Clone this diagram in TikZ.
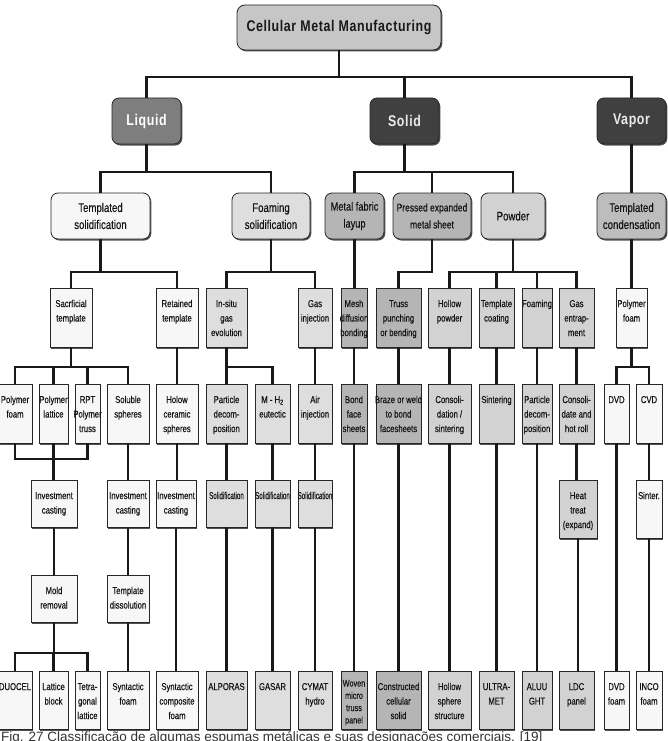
\documentclass[tikz,border=0pt]{standalone}
\usepackage{fontspec}
\setmainfont{Liberation Sans}
\newfontfamily\nf[FakeStretch=0.77,FakeBold=0.35]{Liberation Sans}
\newfontfamily\tf[FakeStretch=0.8,LetterSpace=4]{Liberation Sans}
\usetikzlibrary{shadows}
\definecolor{cW}{HTML}{F7F7F7}
\definecolor{cF}{HTML}{DEDEDE}
\definecolor{cM}{HTML}{B5B5B5}
\definecolor{cP}{HTML}{D2D2D2}
\definecolor{cT}{HTML}{BDBDBD}
\definecolor{cTitle}{HTML}{C6C6C6}
\definecolor{cLiq}{HTML}{7E7E7E}
\definecolor{cDark}{HTML}{404040}
\definecolor{cTxt}{HTML}{141414}
\tikzset{
  shd/.style={drop shadow={shadow xshift=1.3pt,shadow yshift=-1.5pt,fill=black!80,opacity=0.85}},
  sqbox/.style={draw=black!85,line width=0.8pt,inner sep=0pt,shd,text=cTxt},
  rbox/.style={draw=black!85,line width=0.8pt,inner sep=0pt,rounded corners=7pt,shd,align=center,text=cTxt},
  conn/.style={line width=2.2pt,black!90},
}
\newcommand\fA{\fontsize{10}{14.5}\selectfont\def\bxgap{8.9pt}}
\newcommand\fW{\fontsize{9.5}{12.3}\selectfont\def\bxgap{6.9pt}}
\newcommand\sqz[1]{\makebox[\linewidth]{\scalebox{0.8}[1]{#1}}}
\newcommand\mybox[8]{\node[sqbox,fill=#6,minimum width={(#4-#2)*1pt},minimum height={(#5-#3)*1pt}] (#1) at ({(#2+#4)/2},{(#3+#5)/2}) {\parbox[t][\dimexpr#5pt-#3pt\relax][t]{\dimexpr#4pt-#2pt\relax}{\nf#7\centering\vspace*{\bxgap}\strut#8\par}};}
\newcommand\myrbox[7]{\node[rbox,#6,minimum width={(#4-#2)*1pt},minimum height={(#5-#3)*1pt}] (#1) at ({(#2+#4)/2},{(#3+#5)/2}) {#7};}
\begin{document}
\begin{tikzpicture}[x=1pt,y=-1pt]
\fill[white] (0,0) rectangle (668,741);
\useasboundingbox (0,0) rectangle (668,741);
% level 0 and 1
\myrbox{title}{237}{5}{441}{50}{fill=cTitle,rounded corners=8pt,font=\tf\bfseries\fontsize{15.5}{18}\selectfont,text=black!90}{Cellular Metal Manufacturing}
\myrbox{liquid}{112}{98}{181}{144}{fill=cLiq,font=\tf\bfseries\fontsize{15.5}{18}\selectfont,text=white}{Liquid}
\myrbox{solid}{370}{98}{439}{144}{fill=cDark,font=\tf\bfseries\fontsize{15.5}{18}\selectfont,text=white!92!black}{Solid}
\myrbox{vapor}{597}{98}{666}{144}{fill=cDark,font=\tf\bfseries\fontsize{15.5}{18}\selectfont,text=white!92!black}{Vapor}
% level 2
\myrbox{tsol}{51}{193}{150}{239}{fill=cW,font=\nf\fontsize{12.5}{17}\selectfont}{Templated\\solidification}
\myrbox{fsol}{232}{193}{310}{239}{fill=cF,font=\nf\fontsize{12.5}{17}\selectfont}{Foaming\\solidification}
\myrbox{mfab}{325}{193}{384}{239}{fill=cM,font=\nf\fontsize{12}{17}\selectfont}{Metal fabric\\layup}
\myrbox{pexp}{393}{193}{471}{239}{fill=cM,font=\nf\fontsize{11}{17}\selectfont}{Pressed expanded\\metal sheet}
\myrbox{powder}{481}{193}{545}{239}{fill=cP,font=\nf\fontsize{12.5}{17}\selectfont}{Powder}
\myrbox{tcond}{597}{193}{666}{239}{fill=cT,font=\nf\fontsize{12.5}{17}\selectfont}{Templated\\condensation}
% level 3
\mybox{sac}{50}{288}{92}{347}{cW}{\fA}{Sacrficial\\template}
\mybox{ret}{156}{288}{198}{347}{cW}{\fA}{Retained\\template}
\mybox{insitu}{206}{288}{247}{347}{cF}{\fA}{In-situ\\gas\\evolution}
\mybox{gasinj}{298}{288}{332}{347}{cF}{\fA}{Gas\\injection}
\mybox{mesh}{341}{288}{367}{347}{cM}{\fA}{Mesh\\\makebox[\linewidth]{diffusion}\\\makebox[\linewidth]{bonding}}
\mybox{truss}{376}{288}{421}{347}{cM}{\fA}{Truss\\punching\\or bending}
\mybox{hpow}{428}{288}{471}{347}{cP}{\fA}{Hollow\\powder}
\mybox{tcoat}{479}{288}{514}{347}{cP}{\fA}{\makebox[\linewidth]{Template}\\coating}
\mybox{foam}{522}{288}{552}{347}{cP}{\fA}{\makebox[\linewidth]{Foaming}}
\mybox{gasent}{559}{288}{594}{347}{cP}{\fA}{Gas\\entrap-\\ment}
\mybox{pfoamv}{616}{288}{647}{347}{cW}{\fA}{Polymer\\foam}
% level 4
\mybox{pfoam}{-2}{384}{32}{443}{cW}{\fA}{Polymer\\foam}
\mybox{plat}{39}{384}{68}{443}{cW}{\fA}{\makebox[\linewidth]{Polymer}\\lattice}
\mybox{rpt}{75}{384}{100}{443}{cW}{\fA}{RPT\\\makebox[\linewidth]{Polymer}\\truss}
\mybox{sol}{107}{384}{149}{443}{cW}{\fA}{Soluble\\spheres}
\mybox{hcs}{156}{384}{198}{443}{cW}{\fA}{Holow\\ceramic\\spheres}
\mybox{pdec1}{206}{384}{247}{443}{cF}{\fA}{Particle\\decom-\\position}
\mybox{mh2}{255}{384}{290}{443}{cF}{\fA}{M - H\textsubscript{2}\\eutectic}
\mybox{air}{298}{384}{332}{443}{cF}{\fA}{Air\\injection}
\mybox{bond}{341}{384}{367}{443}{cM}{\fA}{Bond\\face\\sheets}
\mybox{braze}{376}{384}{421}{443}{cM}{\fA}{\makebox[\linewidth]{Braze or weld}\\to bond\\facesheets}
\mybox{consol}{428}{384}{471}{443}{cP}{\fA}{Consoli-\\dation /\\sintering}
\mybox{sint}{479}{384}{514}{443}{cP}{\fA}{\makebox[\linewidth]{Sintering}}
\mybox{pdec2}{522}{384}{552}{443}{cP}{\fA}{Particle\\decom-\\position}
\mybox{conshr}{559}{384}{594}{443}{cP}{\fA}{Consoli-\\date and\\hot roll}
\mybox{dvd}{604}{384}{629}{443}{cW}{\fA}{DVD}
\mybox{cvd}{636}{384}{662}{443}{cW}{\fA}{CVD}
% level 5
\mybox{inv1}{31}{480}{77}{527}{cW}{\fA}{Investment\\casting}
\mybox{inv2}{107}{480}{149}{527}{cW}{\fA}{Investment\\casting}
\mybox{inv3}{156}{480}{196}{527}{cW}{\fA}{Investment\\casting}
\mybox{s1}{206}{480}{247}{527}{cF}{\fA}{\sqz{Solidification}}
\mybox{s2}{255}{480}{290}{527}{cF}{\fA}{\sqz{Solidification}}
\mybox{s3}{298}{480}{332}{527}{cF}{\fA}{\sqz{Solidification}}
\mybox{heat}{559}{480}{597}{538}{cP}{\fA}{Heat\\treat\\(expand)}
\mybox{sinter}{636}{480}{662}{538}{cW}{\fA}{Sinter.}
% level 6
\mybox{mold}{31}{575}{77}{622}{cW}{\fA}{Mold\\removal}
\mybox{tdis}{107}{575}{149}{622}{cW}{\fA}{Template\\dissolution}
% level 7
\mybox{duocel}{-2}{671}{32}{729}{cW}{\fA}{DUOCEL}
\mybox{lblock}{39}{671}{68}{729}{cW}{\fA}{Lattice\\block}
\mybox{tetra}{75}{671}{100}{729}{cW}{\fA}{Tetra-\\gonal\\lattice}
\mybox{synf}{107}{671}{149}{729}{cW}{\fA}{Syntactic\\foam}
\mybox{syncomp}{156}{671}{198}{729}{cW}{\fA}{Syntactic\\composite\\foam}
\mybox{alporas}{206}{671}{247}{729}{cF}{\fA}{ALPORAS}
\mybox{gasar}{255}{671}{290}{729}{cF}{\fA}{GASAR}
\mybox{cymat}{298}{671}{332}{729}{cF}{\fA}{CYMAT\\hydro}
\mybox{woven}{341}{671}{367}{729}{cM}{\fW}{Woven\\micro\\truss\\panel}
\mybox{ccs}{376}{671}{421}{729}{cM}{\fA}{\makebox[\linewidth]{Constructed}\\cellular\\solid}
\mybox{hss}{428}{671}{471}{729}{cP}{\fA}{Hollow\\sphere\\structure}
\mybox{ultra}{479}{671}{514}{729}{cP}{\fA}{ULTRA-\\MET}
\mybox{aluu}{522}{671}{552}{729}{cP}{\fA}{ALUU\\GHT}
\mybox{ldc}{559}{671}{594}{729}{cP}{\fA}{LDC\\panel}
\mybox{dvdf}{604}{671}{629}{729}{cW}{\fA}{DVD\\foam}
\mybox{inco}{636}{671}{662}{729}{cW}{\fA}{INCO\\foam}
% bar levels
\coordinate (b0) at (0,77);
\coordinate (b1) at (0,172);
\coordinate (b2) at (0,272);
\coordinate (b3) at (0,367);
\coordinate (bm) at (0,459);
\coordinate (b4) at (0,653);
% connectors
\draw[conn] (title.south) -- (title.south |- b0) -| (liquid.north);
\draw[conn] (title.south |- b0) -| (solid.north);
\draw[conn] (title.south |- b0) -| (vapor.north);
\draw[conn] (liquid.south) -- (liquid.south |- b1) -| (tsol.north);
\draw[conn] (liquid.south |- b1) -| (fsol.north);
\draw[conn] (solid.south) -- (solid.south |- b1) -| (mfab.north);
\draw[conn] (solid.south |- b1) -| (pexp.north);
\draw[conn] (solid.south |- b1) -| (powder.north);
\draw[conn] (vapor.south) -- (vapor.south |- tcond.north);
\draw[conn] (tsol.south) -- (tsol.south |- b2) -| (sac.north);
\draw[conn] (tsol.south |- b2) -| (ret.north);
\draw[conn] (fsol.south) -- (fsol.south |- b2) -| (insitu.north);
\draw[conn] (fsol.south |- b2) -| (gasinj.north);
\draw[conn] (mfab.south) -- (mfab.south |- mesh.north);
\draw[conn] (pexp.south) -- (pexp.south |- b2) -| (truss.north);
\draw[conn] (powder.south) -- (powder.south |- b2) -| (hpow.north);
\draw[conn] (powder.south |- b2) -| (tcoat.north);
\draw[conn] (powder.south |- b2) -| (foam.north);
\draw[conn] (powder.south |- b2) -| (gasent.north);
\draw[conn] (tcond.south) -- (tcond.south |- pfoamv.north);
\draw[conn] (sac.south) -- (sac.south |- b3) -| (pfoam.north);
\draw[conn] (sac.south |- b3) -| (plat.north);
\draw[conn] (sac.south |- b3) -| (rpt.north);
\draw[conn] (sac.south |- b3) -| (sol.north);
\draw[conn] (ret.south) -- (ret.south |- hcs.north);
\draw[conn] (insitu.south) -- (insitu.south |- b3) -| (pdec1.north);
\draw[conn] (insitu.south |- b3) -| (mh2.north);
\draw[conn] (gasinj.south) -- (gasinj.south |- air.north);
\draw[conn] (mesh.south) -- (mesh.south |- bond.north);
\draw[conn] (truss.south) -- (truss.south |- braze.north);
\draw[conn] (hpow.south) -- (hpow.south |- consol.north);
\draw[conn] (tcoat.south) -- (tcoat.south |- sint.north);
\draw[conn] (foam.south) -- (foam.south |- pdec2.north);
\draw[conn] (gasent.south) -- (gasent.south |- conshr.north);
\draw[conn] (pfoamv.south) -- (pfoamv.south |- b3) -| (dvd.north);
\draw[conn] (pfoamv.south |- b3) -| (cvd.north);
\draw[conn] (pfoam.south) -- (pfoam.south |- bm) -| (rpt.south);
\draw[conn] (plat.south) -- (plat.south |- inv1.north);
\draw[conn] (sol.south) -- (sol.south |- inv2.north);
\draw[conn] (hcs.south) -- (hcs.south |- inv3.north);
\draw[conn] (pdec1.south) -- (pdec1.south |- s1.north);
\draw[conn] (mh2.south) -- (mh2.south |- s2.north);
\draw[conn] (air.south) -- (air.south |- s3.north);
\draw[conn] (bond.south) -- (bond.south |- woven.north);
\draw[conn] (braze.south) -- (braze.south |- ccs.north);
\draw[conn] (consol.south) -- (consol.south |- hss.north);
\draw[conn] (sint.south) -- (sint.south |- ultra.north);
\draw[conn] (pdec2.south) -- (pdec2.south |- aluu.north);
\draw[conn] (conshr.south) -- (conshr.south |- heat.north);
\draw[conn] (dvd.south) -- (dvd.south |- dvdf.north);
\draw[conn] (cvd.south) -- (cvd.south |- sinter.north);
\draw[conn] (inv1.south) -- (inv1.south |- mold.north);
\draw[conn] (inv2.south) -- (inv2.south |- tdis.north);
\draw[conn] (inv3.south) -- (inv3.south |- syncomp.north);
\draw[conn] (s1.south) -- (s1.south |- alporas.north);
\draw[conn] (s2.south) -- (s2.south |- gasar.north);
\draw[conn] (s3.south) -- (s3.south |- cymat.north);
\draw[conn] (heat.south) -- (heat.south |- ldc.north);
\draw[conn] (sinter.south) -- (sinter.south |- inco.north);
\draw[conn] (mold.south) -- (mold.south |- b4) -| (duocel.north);
\draw[conn] (mold.south |- b4) -| (lblock.north);
\draw[conn] (mold.south |- b4) -| (tetra.north);
\draw[conn] (tdis.south) -- (tdis.south |- synf.north);
% caption
\node[anchor=base west,inner sep=0pt,font=\fontsize{13.5}{16}\selectfont,text=black!80] (cap) at (1,741.5) {Fig. 27 Classificação de algumas espumas metálicas e suas designações comerciais. [19]};
\end{tikzpicture}
\end{document}
